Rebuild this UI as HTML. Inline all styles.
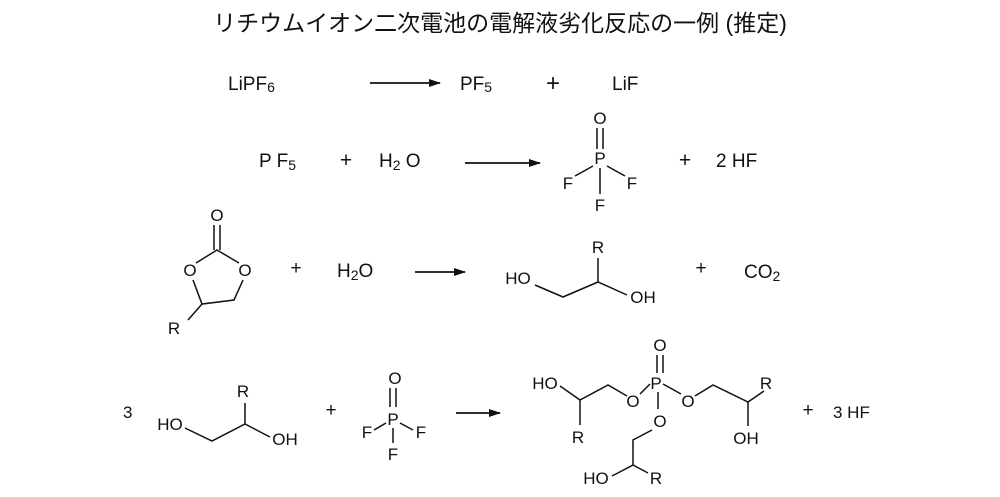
<!DOCTYPE html>
<html><head><meta charset="utf-8"><style>
body{margin:0;background:#fff;width:1000px;height:492px;overflow:hidden}
svg text{font-family:"Liberation Sans","Noto Sans CJK JP",sans-serif;fill:#111}
</style></head><body>
<svg width="1000" height="492" viewBox="0 0 1000 492" xmlns="http://www.w3.org/2000/svg">
<defs><marker id="a" markerWidth="12" markerHeight="8" refX="11" refY="4" orient="auto" markerUnits="userSpaceOnUse"><path d="M0,0 L12,4 L0,8 Z" fill="#111"/></marker></defs>
<text x="500" y="31" font-size="23" text-anchor="middle">リチウムイオン二次電池の電解液劣化反応の一例 (推定)</text>
<g stroke="#111" stroke-width="1.8" fill="none">
<line x1="370" y1="83" x2="440" y2="83" marker-end="url(#a)"/>
<line x1="465" y1="163" x2="540" y2="163" marker-end="url(#a)"/>
<line x1="415" y1="272" x2="465" y2="272" marker-end="url(#a)"/>
<line x1="456" y1="413" x2="500" y2="413" marker-end="url(#a)"/>
</g>
<g font-size="19">
<text x="228" y="90">LiPF<tspan font-size="14" dy="2">6</tspan></text>
<text x="460" y="90">PF<tspan font-size="14" dy="2">5</tspan></text>
<text x="553" y="91" font-size="24" text-anchor="middle">+</text>
<text x="612" y="90">LiF</text>
<text x="259" y="167">P  F<tspan font-size="14" dy="3">5</tspan></text>
<text x="346" y="167" font-size="21" text-anchor="middle">+</text>
<text x="379" y="167">H<tspan font-size="14" dy="3">2</tspan><tspan dy="-3"> O</tspan></text>
<text x="685" y="167" font-size="21" text-anchor="middle">+</text>
<text x="716" y="167">2 HF</text>
<text x="296" y="274" font-size="19" text-anchor="middle">+</text>
<text x="337" y="277">H<tspan font-size="14" dy="3">2</tspan><tspan dy="-3">O</tspan></text>
<text x="701" y="274" font-size="19" text-anchor="middle">+</text>
<text x="744" y="278">CO<tspan font-size="14" dy="3">2</tspan></text>
<text x="331" y="416" font-size="19" text-anchor="middle">+</text>
<text x="808" y="416" font-size="19" text-anchor="middle">+</text>
<text x="833" y="418" font-size="17">3 HF</text>
<text x="123" y="418" font-size="17">3</text>
</g>
<!-- row2 structure -->
<g font-size="17" text-anchor="middle">
<text x="600" y="124">O</text><text x="600" y="164">P</text>
<text x="568" y="189">F</text><text x="632" y="189">F</text><text x="600" y="211">F</text>
</g>
<g stroke="#111" stroke-width="1.5">
<line x1="597" y1="128" x2="597" y2="149"/><line x1="603" y1="128" x2="603" y2="149"/>
<line x1="593" y1="166" x2="575" y2="176"/><line x1="607" y1="166" x2="625" y2="176"/>
<line x1="600" y1="168" x2="600" y2="194"/>
</g>
<!-- row3 ring -->
<g font-size="17" text-anchor="middle">
<text x="217" y="221">O</text><text x="190" y="276">O</text><text x="245" y="276">O</text>
<text x="174" y="334">R</text>
<text x="518" y="284">HO</text><text x="598" y="253">R</text><text x="643" y="303">OH</text>
</g>
<g stroke="#111" stroke-width="1.5" fill="none">
<line x1="214" y1="225" x2="214" y2="250"/><line x1="220" y1="225" x2="220" y2="250"/>
<polyline points="196,263 217,250 239,263"/>
<polyline points="193,280 202,304 234,300 243,280"/>
<line x1="202" y1="304" x2="188" y2="320"/>
<polyline points="535,285 563,297 598,282 627,295"/>
<line x1="598" y1="258" x2="598" y2="282"/>
</g>
<!-- row4 left -->
<g font-size="17" text-anchor="middle">
<text x="170" y="430">HO</text><text x="243" y="397">R</text><text x="285" y="445">OH</text>
<text x="395" y="384">O</text><text x="393" y="425">P</text>
<text x="367" y="438">F</text><text x="421" y="438">F</text><text x="393" y="460">F</text>
</g>
<g stroke="#111" stroke-width="1.5" fill="none">
<polyline points="185,428 212,441 245,424 270,437"/>
<line x1="245" y1="424" x2="245" y2="403"/>
<line x1="390" y1="388" x2="390" y2="407"/><line x1="396" y1="388" x2="396" y2="407"/>
<line x1="386" y1="423" x2="374" y2="430"/><line x1="400" y1="423" x2="413" y2="430"/>
<line x1="393" y1="428" x2="393" y2="443"/>
</g>
<!-- row4 product -->
<g font-size="17" text-anchor="middle">
<text x="545" y="389">HO</text><text x="578" y="443">R</text>
<text x="660" y="351">O</text><text x="656" y="389">P</text>
<text x="633" y="407">O</text><text x="688" y="407">O</text><text x="660" y="427">O</text>
<text x="766" y="389">R</text><text x="746" y="444">OH</text>
<text x="596" y="484">HO</text><text x="656" y="484">R</text>
</g>
<g stroke="#111" stroke-width="1.5" fill="none">
<polyline points="560,386 580,400 608,385 627,396"/>
<line x1="580" y1="400" x2="580" y2="425"/>
<line x1="657" y1="355" x2="657" y2="373"/><line x1="663" y1="355" x2="663" y2="373"/>
<line x1="650" y1="384" x2="640" y2="394"/><line x1="663" y1="384" x2="681" y2="394"/>
<line x1="658" y1="392" x2="658" y2="409"/>
<polyline points="695,396 713,385 748,402 764,391"/>
<line x1="748" y1="402" x2="748" y2="426"/>
<polyline points="652,430 633,440 633,465 612,476"/>
<line x1="633" y1="465" x2="648" y2="473"/>
</g>
</svg>
</body></html>
